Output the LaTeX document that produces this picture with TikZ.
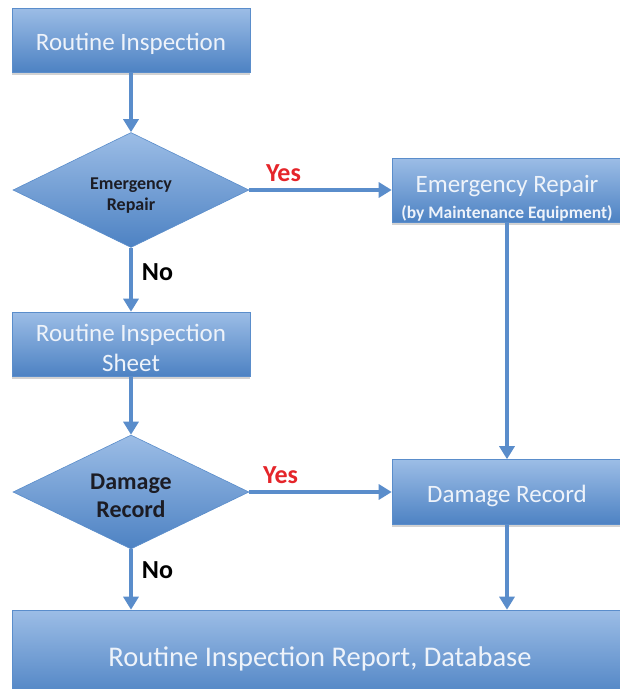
\documentclass[tikz,border=0pt]{standalone}
\usepackage{fontspec}
\setmainfont{Carlito}
\usetikzlibrary{shapes.geometric,arrows.meta,shadows}
\definecolor{boxtop}{HTML}{9CBDE6}
\definecolor{boxbot}{HTML}{4D82C3}
\definecolor{boxline}{HTML}{5A8DCB}
\definecolor{arrowc}{HTML}{5A8DCB}
\definecolor{boxtext}{HTML}{EEF3FA}
\definecolor{dtext}{HTML}{1C1C24}
\definecolor{yesred}{HTML}{E5252A}
\newcommand{\lift}[1]{\rule{0pt}{#1}}
\tikzset{
  procbox/.style={rectangle, top color=boxtop, bottom color=boxbot, draw=boxline, line width=0.6pt,
    text=boxtext, align=center, inner sep=0pt,
    drop shadow={shadow xshift=0pt, shadow yshift=-2.5pt, opacity=0.25, fill=black!70}},
  decbox/.style={diamond, top color=boxtop, bottom color=boxbot, draw=boxline, line width=0.6pt,
    text=dtext, align=center, inner sep=0pt, aspect=2.05, font=\bfseries},
  flow/.style={draw=arrowc, line width=3.2pt, -{Triangle[length=13pt,width=15pt]}},
  yeslabel/.style={text=yesred, font=\fontsize{26}{30}\selectfont\bfseries},
  nolabel/.style={text=black, font=\fontsize{26}{30}\selectfont\bfseries},
}
\begin{document}
\begin{tikzpicture}[x=1pt,y=-1pt]
\useasboundingbox (0,0) rectangle (620,689);
\clip (0,0) rectangle (620,689);
\fill[white] (0,0) rectangle (620,689);
% boxes
\node[procbox, minimum width=238pt, minimum height=64pt, font=\fontsize{25}{30}\selectfont] (ri) at (131,40) {\lift{26pt}Routine Inspection};
\node[decbox, minimum width=236pt, minimum height=115pt, font=\fontsize{18}{21}\selectfont\bfseries] (d1) at (131,190) {\lift{22pt}Emergency\\Repair};
\node[procbox, minimum width=230pt, minimum height=64pt] (er) at (507,190) {\fontsize{25}{26}\selectfont\lift{34pt}Emergency Repair\\[7pt]{\fontsize{17.5}{20}\selectfont\bfseries (by Maintenance Equipment)}};
\node[procbox, minimum width=238pt, minimum height=64pt, font=\fontsize{25}{30}\selectfont] (ris) at (131,344) {\lift{25pt}Routine Inspection\\Sheet};
\node[decbox, minimum width=236pt, minimum height=114pt, font=\fontsize{24}{28}\selectfont\bfseries] (d2) at (131,492) {\lift{24pt}Damage\\Record};
\node[procbox, minimum width=230pt, minimum height=65pt, font=\fontsize{25}{30}\selectfont] (dr) at (507,492) {\lift{26pt}Damage Record};
\node[procbox, minimum width=616pt, minimum height=90pt, font=\fontsize{28.5}{32}\selectfont] (rep) at (320,655) {\lift{27pt}Routine Inspection Report, Database};
% connectors
\draw[flow] (ri.south) -- (d1.north);
\draw[flow] (d1.east) -- node[pos=0.24, above=3pt, yeslabel] {Yes} (er.west);
\draw[flow] (d1.south) -- node[pos=0.38, right=6pt, nolabel] {No} (ris.north);
\draw[flow] (ris.south) -- (d2.north);
\draw[flow] (d2.east) -- node[pos=0.22, above=3pt, yeslabel] {Yes} (dr.west);
\draw[flow] (er.south) -- (dr.north);
\draw[flow] (d2.south) -- node[pos=0.35, right=6pt, nolabel] {No} (d2.south |- rep.north);
\draw[flow] (dr.south) -- (dr.south |- rep.north);
\end{tikzpicture}
\end{document}
